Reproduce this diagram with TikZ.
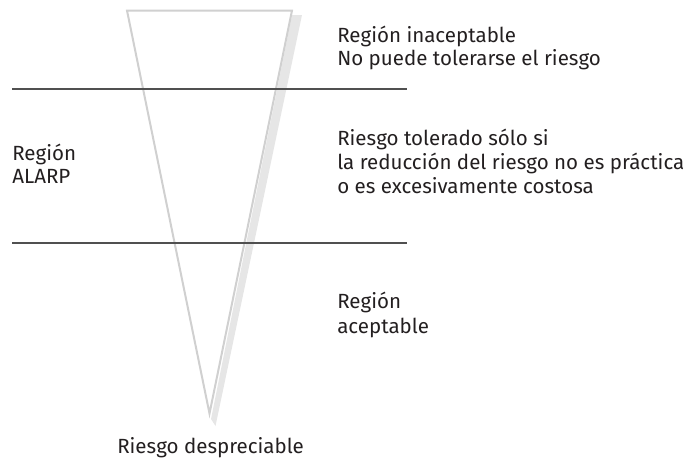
\documentclass[tikz,border=0pt]{standalone}
\usepackage{fontspec}
\setmainfont{Fira Sans}
\usetikzlibrary{positioning}
\definecolor{coneGray}{HTML}{D0D0D0}
\definecolor{shadeGray}{HTML}{E6E6E6}
\definecolor{ruleGray}{HTML}{505050}
\definecolor{inkBlack}{HTML}{231F20}

\begin{document}
\begin{tikzpicture}[x=0.75pt,y=-0.75pt,
  lbl/.style={anchor=base west,inner sep=0pt,text=inkBlack,font=\fontsize{15.4}{18}\selectfont}]
\useasboundingbox (0,0) rectangle (697,461);
\coordinate (tl) at (127,10.5);
\coordinate (tr) at (292,10.5);
\coordinate (ap) at (209.5,413.5);
\fill[shadeGray] (292,15) -- (302,15) -- (215.5,426) -- (211,419) -- cycle;
\draw[coneGray,line width=1.5pt] (tl) -- (tr) -- (ap) -- cycle;
\foreach \y/\n in {89/top,243/bot}{
  \coordinate (\n w) at (12,\y);
  \coordinate (\n e) at (407,\y);
  \draw[ruleGray,line width=1pt] (\n w) -- (\n e);}
\node[lbl] (inac1) at (337,42.5) {Región inaceptable};
\node[lbl] (inac2) at (337,65.7) {No puede tolerarse el riesgo};
\node[lbl] (tol1) at (337,145) {Riesgo tolerado sólo si};
\node[lbl] (tol2) at (337,169) {la reducción del riesgo no es práctica};
\node[lbl] (tol3) at (337,193) {o es excesivamente costosa};
\node[lbl] (alarp1) at (12,160) {Región};
\node[lbl] (alarp2) at (12,183) {ALARP};
\node[lbl] (acep1) at (337,308) {Región};
\node[lbl] (acep2) at (337,333) {aceptable};
\node[lbl] (desp) at (117,453) {Riesgo despreciable};
\end{tikzpicture}
\end{document}
